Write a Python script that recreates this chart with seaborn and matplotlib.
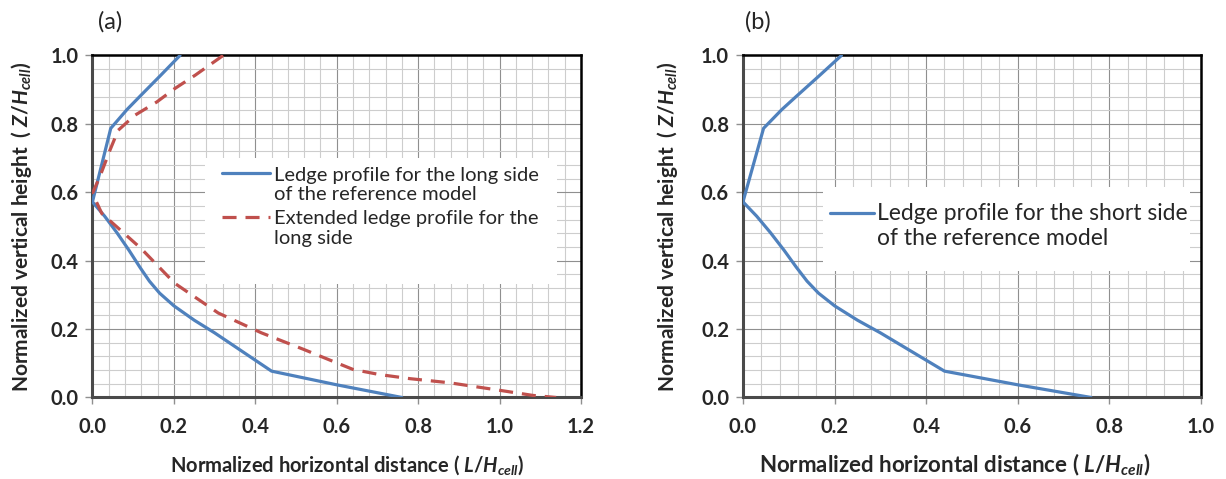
import numpy as np
import pandas as pd
import seaborn as sns
import matplotlib.pyplot as plt
from matplotlib.patches import Rectangle
from matplotlib.ticker import MultipleLocator

# ledge profile, long side of the reference model (x = L/Hcell, z = Z/Hcell)
long_x = [0.215, 0.166, 0.117, 0.085, 0.045, 0.0, 0.03, 0.06, 0.09, 0.117, 0.14, 0.165,
          0.20, 0.25, 0.30, 0.44, 0.60, 0.76]
long_z = [1.0, 0.94, 0.881, 0.842, 0.787, 0.572, 0.53, 0.482, 0.43, 0.38, 0.34, 0.305,
          0.268, 0.226, 0.189, 0.077, 0.037, 0.0]

# extended ledge profile for the long side
ext_x = [0.321, 0.252, 0.202, 0.158, 0.104, 0.063, 0.043, 0.018, 0.0, 0.023, 0.12, 0.202,
         0.309, 0.415, 0.52, 0.59, 0.64, 0.705, 0.78, 0.877, 1.0, 1.082, 1.139]
ext_z = [1.0, 0.942, 0.903, 0.864, 0.825, 0.781, 0.723, 0.645, 0.597, 0.538, 0.435, 0.334,
         0.247, 0.189, 0.14, 0.106, 0.082, 0.067, 0.055, 0.043, 0.021, 0.006, 0.0]

# ledge profile, short side of the reference model
short_x = [0.215, 0.166, 0.117, 0.085, 0.045, 0.0, 0.03, 0.06, 0.09, 0.117, 0.14, 0.165,
           0.20, 0.25, 0.30, 0.44, 0.60, 0.76]
short_z = [1.0, 0.94, 0.881, 0.842, 0.787, 0.572, 0.53, 0.482, 0.43, 0.38, 0.34, 0.305,
           0.268, 0.226, 0.189, 0.077, 0.037, 0.0]

lbl_long = "Ledge profile for the long side\nof the reference model"
lbl_ext = "Extended ledge profile for the\nlong side"
lbl_short = "Ledge profile for the short side\nof the reference model"

sns.set_style("white")
plt.rcParams['font.family'] = ['Lato', 'DejaVu Sans']
plt.rcParams['mathtext.fontset'] = 'custom'
plt.rcParams['mathtext.it'] = 'Lato:italic:bold'
plt.rcParams['mathtext.rm'] = 'Lato:bold'
plt.rcParams['mathtext.bf'] = 'Lato:bold'

blue = "#4F81BD"
red = "#C0504D"

fig = plt.figure(figsize=(12.26, 4.79), dpi=100)
ax1 = fig.add_axes([0.0754, 0.1702, 0.3985, 0.714])
ax2 = fig.add_axes([0.606, 0.1702, 0.3736, 0.714])

df_long = pd.DataFrame({"x": long_x, "z": long_z})
df_ext = pd.DataFrame({"x": ext_x, "z": ext_z})
df_short = pd.DataFrame({"x": short_x, "z": short_z})

sns.lineplot(data=df_long, x="x", y="z", sort=False, estimator=None, color=blue,
             linewidth=2.3, label=lbl_long, ax=ax1, zorder=3)
sns.lineplot(data=df_ext, x="x", y="z", sort=False, estimator=None, color=red,
             linewidth=2.3, label=lbl_ext, ax=ax1, zorder=3)
ax1.lines[1].set_dashes([4.4, 2.8])
sns.lineplot(data=df_short, x="x", y="z", sort=False, estimator=None, color=blue,
             linewidth=2.3, label=lbl_short, ax=ax2, zorder=3)


def style_axes(ax, xmax, xlabel_size, xlab_pos, ylab_x):
    ax.set_xlim(0, xmax)
    ax.set_ylim(0, 1.0)
    ax.xaxis.set_major_locator(MultipleLocator(0.2))
    ax.yaxis.set_major_locator(MultipleLocator(0.2))
    ax.xaxis.set_minor_locator(MultipleLocator(0.04))
    ax.yaxis.set_minor_locator(MultipleLocator(0.04))
    ax.grid(which="major", color="#8f8f8f", linewidth=0.8)
    ax.grid(which="minor", color="#cdcdcd", linewidth=0.8)
    ax.set_axisbelow(True)
    ax.xaxis.set_major_formatter(lambda v, p: f"{v:.1f}")
    ax.yaxis.set_major_formatter(lambda v, p: f"{v:.1f}")
    ax.tick_params(which="major", direction="out", length=5, width=1, color="#8f8f8f",
                   labelsize=14.5, pad=5, left=True, bottom=True)
    ax.tick_params(axis="x", pad=9)
    ax.tick_params(which="minor", length=0)
    for t in ax.get_xticklabels() + ax.get_yticklabels():
        t.set_fontweight("bold")
    for side in ["left", "bottom"]:
        ax.spines[side].set_color("#4a4a4a")
        ax.spines[side].set_linewidth(2.2)
    for side in ["top", "right"]:
        ax.spines[side].set_color("black")
        ax.spines[side].set_linewidth(1.8)
    ax.set_xlabel("Normalized horizontal distance ( $L/H_{cell}$)", fontsize=xlabel_size,
                  fontweight="bold", va="center")
    ax.set_ylabel("Normalized vertical height  ( $Z/H_{cell}$)", fontsize=15,
                  fontweight="bold", va="center")
    ax.xaxis.set_label_coords(xlab_pos, -0.197)
    ax.yaxis.set_label_coords(ylab_x, 0.5)


style_axes(ax1, 1.2, 14.5, 0.521, -0.146)
style_axes(ax2, 1.0, 16, 0.463, -0.164)

# white boxes behind the legends
ax1.add_patch(Rectangle((0.23, 0.333), 0.721, 0.366, transform=ax1.transAxes,
                        facecolor="white", edgecolor="none", zorder=1))
ax2.add_patch(Rectangle((0.175, 0.371), 0.801, 0.243, transform=ax2.transAxes,
                        facecolor="white", edgecolor="none", zorder=1))

leg1 = ax1.legend(loc="upper left", bbox_to_anchor=(0.265, 0.675), borderaxespad=0,
                  borderpad=0, frameon=False, fontsize=14.5, handlelength=2.4,
                  handletextpad=0.2, labelspacing=0.35)
leg2 = ax2.legend(loc="upper left", bbox_to_anchor=(0.19, 0.568), borderaxespad=0,
                  borderpad=0, frameon=False, fontsize=16.5, handlelength=1.9,
                  handletextpad=0.13, labelspacing=0.35)
for leg, shift in [(leg1, 8.7), (leg2, 9.9)]:
    for ln in leg.get_lines():
        ln.set_ydata(np.array(ln.get_ydata()) + shift)
leg1.get_lines()[1].set_dashes([4.4, 2.8])

fig.text(0.09, 0.955, "(a)", fontsize=17, va="center", ha="center")
fig.text(0.618, 0.955, "(b)", fontsize=17, va="center", ha="center")

fig.savefig("out.png", dpi=100)
